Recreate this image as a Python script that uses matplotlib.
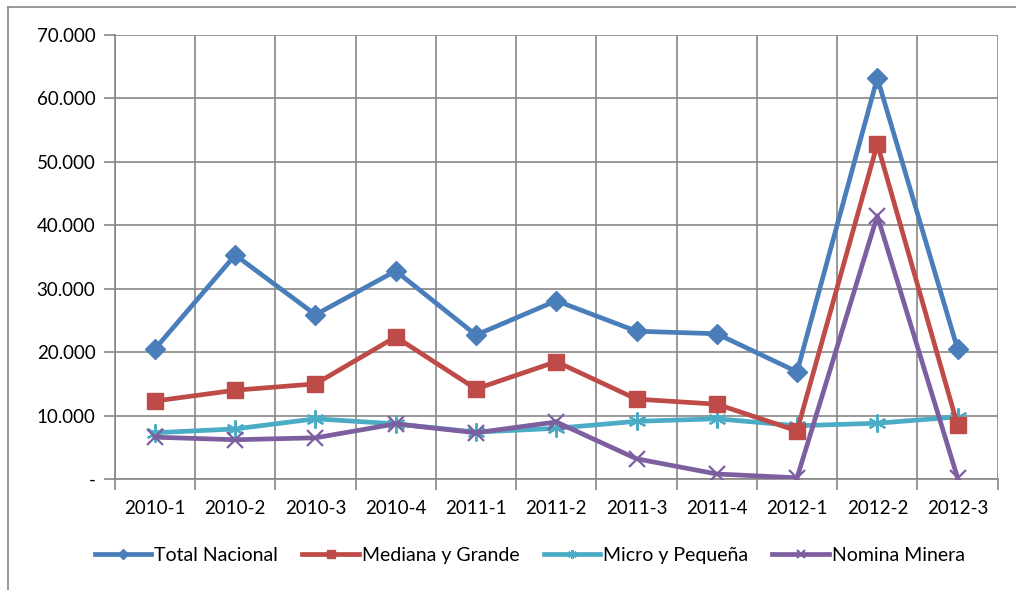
import matplotlib.pyplot as plt
from matplotlib.lines import Line2D
from matplotlib.ticker import FuncFormatter

# Datos
periodos = ['2010-1', '2010-2', '2010-3', '2010-4', '2011-1', '2011-2',
            '2011-3', '2011-4', '2012-1', '2012-2', '2012-3']
total_nacional = [20500, 35300, 25900, 32800, 22700, 28100, 23300, 22900, 16900, 63200, 20500]
mediana_grande = [12300, 14000, 15000, 22400, 14200, 18500, 12600, 11800, 7600, 52800, 8500]
micro_pequena = [7300, 7900, 9500, 8700, 7400, 8000, 9100, 9500, 8400, 8800, 9800]
nomina_minera = [6600, 6200, 6500, 8700, 7300, 9000, 3200, 800, 200, 41500, 200]

plt.rcParams['font.family'] = ['Lato', 'DejaVu Sans']

fig = plt.figure(figsize=(10.16, 5.9), dpi=100)
ax = fig.add_axes([0.113, 0.188, 0.869, 0.753])

x = list(range(len(periodos)))
ax.plot(x, total_nacional, color='#4A7EBB', lw=3.4, marker='D', ms=10,
        label='Total Nacional', zorder=5)
ax.plot(x, mediana_grande, color='#BE4B48', lw=3.4, marker='s', ms=12,
        label='Mediana y Grande', zorder=4)
ax.plot(x, micro_pequena, color='#4BACC6', lw=3.4, marker=(6, 2, 0), ms=13,
        mew=1.6, label='Micro y Pequeña', zorder=3)
ax.plot(x, nomina_minera, color='#7D5FA0', lw=3.4, marker='x', ms=11,
        mew=1.6, label='Nomina Minera', zorder=3)

ax.set_xlim(-0.5, len(periodos) - 0.5)
ax.set_ylim(0, 70000)
ax.set_yticks(range(0, 70001, 10000))
ax.yaxis.set_major_formatter(FuncFormatter(
    lambda v, p: '-' if v == 0 else f'{int(v):,}'.replace(',', '.')))

# separadores de categorias en x
ax.set_xticks([i - 0.5 for i in range(len(periodos) + 1)])
ax.set_xticklabels([])
ax.set_xticks(x, minor=True)
ax.set_xticklabels(periodos, minor=True)
ax.tick_params(axis='x', which='minor', length=0, pad=15, labelsize=13.5)
ax.tick_params(axis='x', which='major', length=8, color='#888888', width=1.2)
ax.tick_params(axis='y', length=8, color='#888888', width=1.2, labelsize=13.5, pad=6)

ax.grid(True, which='major', color='#888888', lw=1.2)
ax.set_axisbelow(True)
for s in ['top', 'right']:
    ax.spines[s].set_visible(False)
for s in ['left', 'bottom']:
    ax.spines[s].set_color('#888888')
    ax.spines[s].set_linewidth(1.2)

ax.legend(loc='center', bbox_to_anchor=(0.47, -0.171), ncol=4, frameon=False,
          fontsize=14, handlelength=2.9, columnspacing=1.25, handletextpad=0.15,
          markerscale=0.5)

# marco del grafico
fig.add_artist(Line2D([8 / 1016, 8 / 1016], [0, 1 - 7 / 590], color='#888888', lw=1.2))
fig.add_artist(Line2D([8 / 1016, 1], [1 - 7 / 590, 1 - 7 / 590], color='#888888', lw=1.2))

fig.savefig('out.png', dpi=100)
